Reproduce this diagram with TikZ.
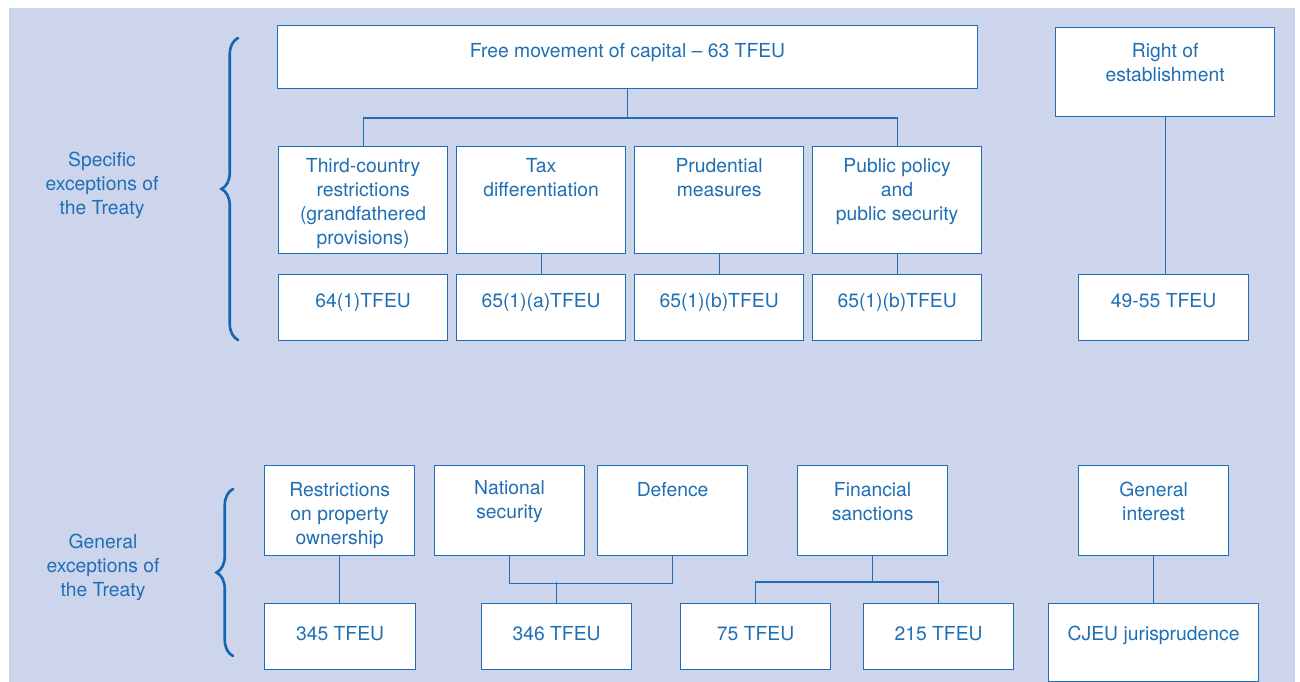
\documentclass[tikz,border=0pt]{standalone}
\usepackage{fontspec}
\setmainfont{TeX Gyre Heros}
\usetikzlibrary{decorations.pathreplacing}
\definecolor{ebblue}{RGB}{31,111,180}
\definecolor{ebbrace}{RGB}{21,101,176}
\definecolor{ebback}{RGB}{205,213,236}

\begin{document}
\begin{tikzpicture}[
					x=0.02cm, y=-0.02cm,
					box/.style={rectangle, draw=ebblue, fill=white, line width=0.7pt, anchor=north west, inner sep=0pt},
					tag/.style={anchor=north, text=ebblue, align=center, inner sep=0pt, font=\fontsize{11}{13.6}\selectfont},
					link/.style={draw=ebblue, line width=0.6pt},
					curly/.style={draw=ebbrace, line width=1.5pt, line cap=round, decorate, decoration={brace, amplitude=0.33cm}},
					]
					\useasboundingbox (0,0) rectangle (1300,682);
					\fill[ebback] (9,8) rectangle (1295,682);
					\node[box, minimum width=14cm, minimum height=1.26cm, label={[tag,yshift=-0.36cm]north:Free movement of capital -- 63 TFEU}] (free) at (277,25) {};
					\node[box, minimum width=4.38cm, minimum height=1.78cm, label={[tag,yshift=-0.32cm]north:{Right of\\establishment}}] (estab) at (1055,27) {};
					\node[box, minimum width=3.38cm, minimum height=2.14cm, label={[tag,yshift=-0.24cm]north:{Third-country\\restrictions\\(grandfathered\\provisions)}}] (third) at (278,146) {};
					\node[box, minimum width=3.38cm, minimum height=2.14cm, label={[tag,yshift=-0.24cm]north:{Tax\\differentiation}}] (tax) at (456,146) {};
					\node[box, minimum width=3.38cm, minimum height=2.14cm, label={[tag,yshift=-0.24cm]north:{Prudential\\measures}}] (prud) at (634,146) {};
					\node[box, minimum width=3.38cm, minimum height=2.14cm, label={[tag,yshift=-0.24cm]north:{Public policy\\and\\public security}}] (policy) at (812,146) {};
					\node[box, minimum width=3.38cm, minimum height=1.32cm, label={[tag,yshift=-0.38cm]north:64(1)TFEU}] (art64) at (278,274) {};
					\node[box, minimum width=3.38cm, minimum height=1.32cm, label={[tag,yshift=-0.38cm]north:65(1)(a)TFEU}] (art65a) at (456,274) {};
					\node[box, minimum width=3.38cm, minimum height=1.32cm, label={[tag,yshift=-0.38cm]north:65(1)(b)TFEU}] (art65b) at (634,274) {};
					\node[box, minimum width=3.38cm, minimum height=1.32cm, label={[tag,yshift=-0.38cm]north:65(1)(b)TFEU}] (art65c) at (812,274) {};
					\node[box, minimum width=3.4cm, minimum height=1.32cm, label={[tag,yshift=-0.38cm]north:49-55 TFEU}] (art49) at (1078,274) {};
					\node[box, minimum width=3cm, minimum height=1.8cm, label={[tag,yshift=-0.34cm]north:{Restrictions\\on property\\ownership}}] (prop) at (264,465) {};
					\node[box, minimum width=3cm, minimum height=1.8cm, label={[tag,yshift=-0.3cm]north:{National\\security}}] (nat) at (434,465) {};
					\node[box, minimum width=3cm, minimum height=1.8cm, label={[tag,yshift=-0.34cm]north:Defence}] (def) at (597,465) {};
					\node[box, minimum width=3cm, minimum height=1.8cm, label={[tag,yshift=-0.34cm]north:{Financial\\sanctions}}] (fin) at (797,465) {};
					\node[box, minimum width=3cm, minimum height=1.8cm, label={[tag,yshift=-0.34cm]north:{General\\interest}}] (gen) at (1078,465) {};
					\node[box, minimum width=3.02cm, minimum height=1.32cm, label={[tag,yshift=-0.46cm]north:345 TFEU}] (a345) at (264,603) {};
					\node[box, minimum width=3cm, minimum height=1.32cm, label={[tag,yshift=-0.46cm]north:346 TFEU}] (a346) at (481,603) {};
					\node[box, minimum width=3cm, minimum height=1.32cm, label={[tag,yshift=-0.46cm]north:75 TFEU}] (a75) at (680,603) {};
					\node[box, minimum width=3cm, minimum height=1.32cm, label={[tag,yshift=-0.46cm]north:215 TFEU}] (a215) at (863,603) {};
					\node[box, minimum width=4.2cm, minimum height=1.56cm, label={[tag,yshift=-0.46cm]north:CJEU jurisprudence}] (cjeu) at (1048,603) {};
					\node[tag, anchor=center] (specific) at (102,185) {Specific\\exceptions of\\the Treaty};
					\node[tag, anchor=center] (general) at (103,567) {General\\exceptions of\\the Treaty};
					\draw[curly] (238,340) -- (238,38);
					\draw[curly] (233,656) -- (233,489);
					\draw[link] (free.south) -- ++(0,30);
					\draw[link] (third.north) -- ++(0,-28) -| (policy.north);
					\draw[link] (tax.south) -- (art65a.north);
					\draw[link] (prud.south) -- (art65b.north);
					\draw[link] (policy.south) -- (art65c.north);
					\draw[link] (estab.south) -- (estab.south |- art49.north);
					\draw[link] (prop.south) -- (prop.south |- a345.north);
					\draw[link] (nat.south) -- ++(0,27) -| (def.south);
					\draw[link] (a346.north) -- ++(0,-21);
					\draw[link] (fin.south) -- ++(0,27);
					\draw[link] (a75.north) -- ++(0,-21) -| (a215.north);
					\draw[link] (gen.south) -- (gen.south |- cjeu.north);
				\end{tikzpicture}
\end{document}
